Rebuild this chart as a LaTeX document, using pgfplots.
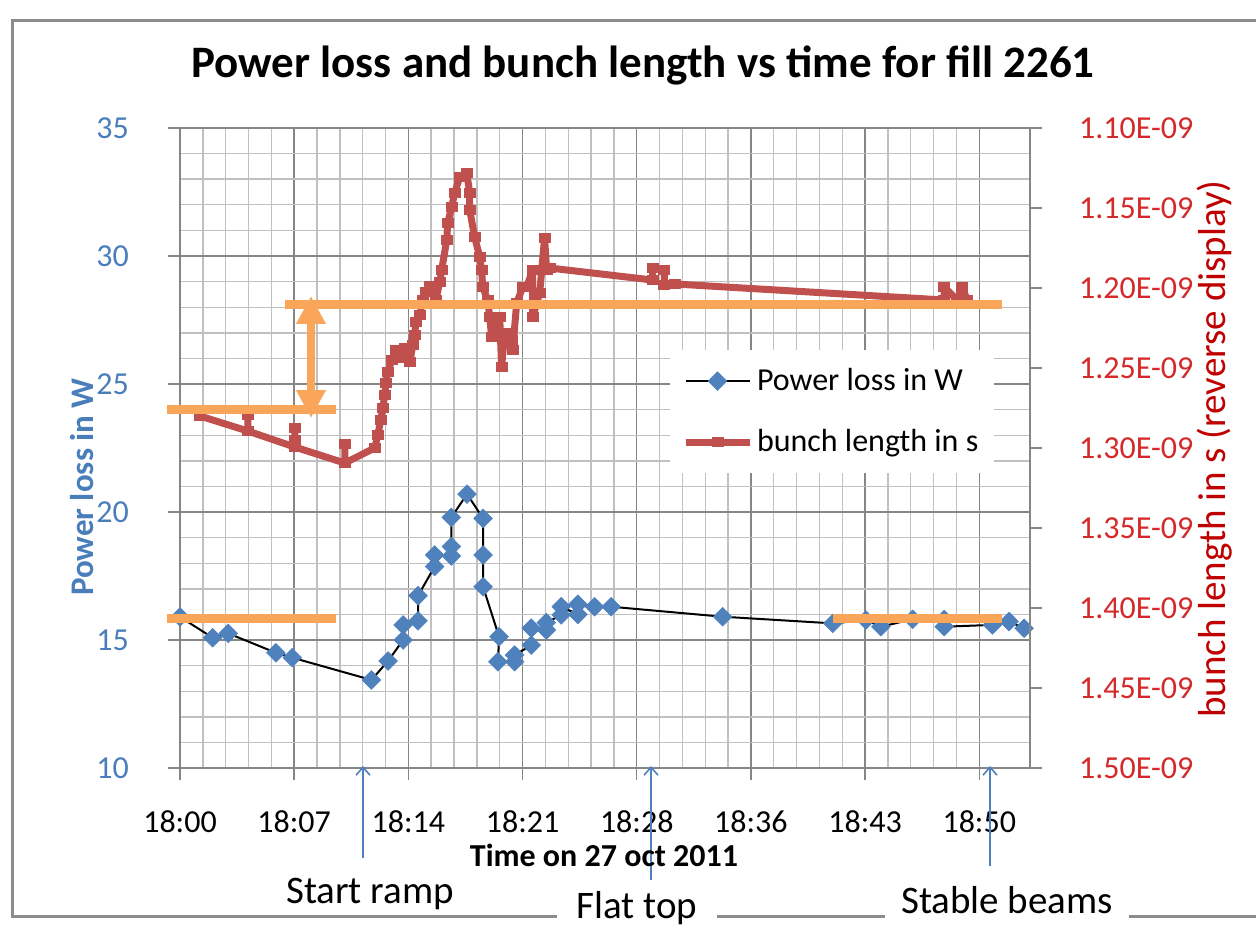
\documentclass[border=0pt]{standalone}
\usepackage{pgfplots}
\pgfplotsset{compat=1.18}
\usepackage{fontspec}
\setmainfont{Carlito}
\usetikzlibrary{arrows.meta}

\definecolor{pblue}{HTML}{4F81BD}
\definecolor{lblue}{HTML}{4A7EBB}
\definecolor{bred}{HTML}{C0504D}
\definecolor{tred}{HTML}{D42A2A}
\definecolor{lred}{HTML}{C00000}
\definecolor{orng}{HTML}{F9A65A}
\definecolor{gmaj}{HTML}{868686}
\definecolor{gmin}{HTML}{C0C0C0}
\definecolor{framegray}{HTML}{8C8C8C}

\newcommand\tickfont{\fontsize{16}{19}\selectfont}

\begin{document}
\begin{tikzpicture}
\path[use as bounding box] (0,0) rectangle (628pt,464pt);
\clip (0,0) rectangle (628pt,464pt);
\fill[white] (0,0) rectangle (628pt,464pt);

% power loss, left axis (x in minutes after 18:00)
\begin{axis}[
  at={(90pt,80pt)}, anchor=south west,
  width=425pt, height=320pt, scale only axis,
  xmin=0, xmax=53.6, ymin=10, ymax=35,
  axis x line*=bottom, axis y line*=left,
  axis line style={gmaj, line width=0.7pt},
  xtick={0,7.2,14.4,21.6,28.8,36,43.2,50.4},
  xticklabels={18:00,18:07,18:14,18:21,18:28,18:36,18:43,18:50},
  minor x tick num=4,
  ytick={10,15,...,35}, minor y tick num=4,
  grid=both,
  major grid style={gmaj, line width=0.7pt},
  minor grid style={gmin, line width=0.7pt},
  tick align=outside, major tick length=6pt, minor tick length=0pt,
  tick style={gmaj, line width=0.7pt},
  /pgf/number format/assume math mode=true,
  ticklabel style={font=\tickfont},
  xticklabel style={anchor=center, yshift=-21pt},
  yticklabel style={text=lblue, anchor=east, xshift=-16pt},
]
\addplot[black, line width=1pt, mark=square*, mark size=3.3pt,
  mark options={fill=pblue, draw=pblue, line width=0.3pt, rotate=45}]
coordinates {
  (0,15.9) (2.06,15.09) (3.04,15.26) (6.05,14.5) (7.08,14.31)
  (12.07,13.44) (13.12,14.18) (14.07,15.0) (14.07,15.59) (15.01,15.75)
  (15.01,16.73) (16.06,17.87) (16.06,18.32) (17.11,18.28) (17.11,18.65)
  (17.11,19.79) (18.1,20.7) (19.11,19.75) (19.11,18.32) (19.11,17.08)
  (20.12,15.13) (20.05,14.15) (21.1,14.15) (21.1,14.41) (22.15,14.8)
  (22.15,15.46) (23.1,15.39) (23.1,15.68) (24.04,15.98) (24.04,16.3)
  (25.09,16.0) (25.09,16.4) (26.14,16.3) (27.19,16.3) (34.22,15.91)
  (41.16,15.65) (43.25,15.78) (44.2,15.52) (46.2,15.81) (48.19,15.8)
  (48.19,15.52) (51.23,15.59) (52.28,15.72) (53.23,15.46)
};
\end{axis}

% bunch length in ns, right axis, reversed
\begin{axis}[
  at={(90pt,80pt)}, anchor=south west,
  width=425pt, height=320pt, scale only axis,
  xmin=0, xmax=53.6, ymin=1.10, ymax=1.50, y dir=reverse,
  axis x line=none, axis y line*=right,
  axis line style={gmaj, line width=0.7pt},
  ytick={1.10,1.15,1.20,1.25,1.30,1.35,1.40,1.45,1.50},
  yticklabels={1.10E-09,1.15E-09,1.20E-09,1.25E-09,1.30E-09,1.35E-09,1.40E-09,1.45E-09,1.50E-09},
  tick align=outside, major tick length=6pt,
  tick style={gmaj, line width=0.7pt},
  ticklabel style={font=\tickfont},
  yticklabel style={text=tred, anchor=west, xshift=15pt},
  legend cell align=left,
  legend style={at={(0.576,0.653)}, anchor=north west, draw=none, fill=white,
    font=\tickfont, inner xsep=6pt, inner ysep=7pt, row sep=14pt},
  legend image code/.code={\draw[mark repeat=2,mark phase=2,#1]
    plot coordinates {(0pt,0pt) (16pt,0pt) (32pt,0pt)};},
]
\addlegendimage{black, line width=1pt, mark=square*, mark size=3.3pt,
  mark options={fill=pblue, draw=pblue, line width=0.3pt, rotate=45}}
\addlegendentry{Power loss in W}
\addplot[bred, line width=3.5pt, line join=round, mark=-, mark size=3pt,
  mark options={line width=5pt}]
coordinates {
  (1.26,1.2800) (4.28,1.2894) (4.28,1.2794) (4.28,1.2894)
  (7.24,1.2994) (7.24,1.2875) (7.24,1.2950) (7.24,1.2994)
  (10.39,1.3094) (10.39,1.2975) (10.39,1.3094)
  (12.28,1.3000) (12.47,1.2919) (12.66,1.2825) (12.79,1.2750)
  (12.91,1.2669) (12.98,1.2594) (13.10,1.2525) (13.35,1.2450)
  (13.61,1.2388) (13.86,1.2438) (14.17,1.2375) (14.49,1.2463)
  (14.68,1.2356) (14.80,1.2294) (14.87,1.2213) (15.12,1.2169)
  (15.31,1.2075) (15.50,1.2025) (15.75,1.1988) (16.13,1.2075)
  (16.38,1.1963) (16.50,1.1888) (16.82,1.1700) (16.88,1.1594)
  (17.13,1.1494) (17.32,1.1406) (17.64,1.1306) (18.08,1.1281)
  (18.27,1.1406) (18.27,1.1513) (18.58,1.1681) (18.90,1.1806)
  (19.02,1.1888) (19.09,1.1994) (19.40,1.2075) (19.53,1.2181)
  (19.65,1.2306) (20.16,1.2181) (20.28,1.2494) (20.47,1.2281)
  (20.91,1.2325) (20.98,1.2388) (21.23,1.2094) (21.61,1.1994)
  (21.86,1.1994) (22.24,1.1888) (22.24,1.2181) (22.68,1.2031)
  (22.99,1.1688) (23.12,1.1888) (23.31,1.1875)
  (29.80,1.1950) (29.80,1.1875) (30.55,1.1888) (30.55,1.1981)
  (31.24,1.1975) (48.19,1.2075) (48.19,1.1994) (49.01,1.2075)
  (49.32,1.1994) (49.64,1.2075)
};
\addlegendentry{bunch length in s}
\end{axis}

% annotations, in pixel units of the reference
\begin{scope}[x=0.5pt, y=-0.5pt, shift={(0pt,464pt)}]
  \draw[framegray, line width=1.5pt] (1260,21) -- (12,21) -- (12,916) -- (1260,916);
  \draw[orng, line width=4.5pt] (167,409) -- (336,409);
  \draw[orng, line width=4.5pt] (285,305) -- (1002,305);
  \draw[orng, line width=4.5pt] (167,618) -- (336,618);
  \draw[orng, line width=4.5pt] (833,618) -- (1002,618);
  \draw[orng, line width=4pt,
    {Triangle[width=14pt,length=14pt]}-{Triangle[width=14pt,length=14pt]}]
    (311,296) -- (311,418);
  \draw[pblue, line width=0.8pt, -{Straight Barb[length=4pt,width=7pt]}] (363,858) -- (363,766);
  \draw[pblue, line width=0.8pt, -{Straight Barb[length=4pt,width=7pt]}] (651,880) -- (651,766);
  \draw[pblue, line width=0.8pt, -{Straight Barb[length=4pt,width=7pt]}] (990,866) -- (990,766);

  \node[font=\fontsize{22.5}{27}\selectfont\bfseries, anchor=base] at (643,78)
    {Power loss and bunch length vs time for fill 2261};
  \node[font=\fontsize{16}{19}\selectfont\bfseries, anchor=base] at (604,866)
    {Time on 27 oct 2011};
  \node[font=\fontsize{16.5}{19}\selectfont\bfseries, text=lblue, rotate=90] at (82,487)
    {Power loss in W};
  \node[font=\fontsize{19.5}{23}\selectfont, text=lred, rotate=90] at (1215,449)
    {bunch length in s (reverse display)};
  \node[font=\fontsize{19.5}{23}\selectfont, anchor=base] at (370,903) {Start ramp};
  \node[font=\fontsize{19.5}{23}\selectfont, anchor=base, fill=white, inner xsep=10pt,
    inner ysep=2pt] at (637,918) {Flat top};
  \node[font=\fontsize{19.5}{23}\selectfont, anchor=base, fill=white, inner xsep=8pt]
    at (1007,913) {Stable beams};
\end{scope}
\end{tikzpicture}
\end{document}
